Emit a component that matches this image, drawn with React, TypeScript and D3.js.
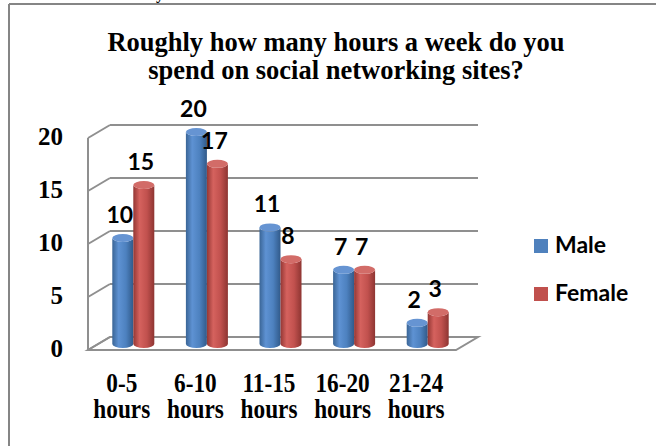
import React from "react";
import * as d3 from "d3";

const categories = ["0-5", "6-10", "11-15", "16-20", "21-24"];
const categoryUnit = "hours";
const maleValues = [10, 20, 11, 7, 2];
const femaleValues = [15, 17, 8, 7, 3];
const seriesNames = ["Male", "Female"];
const yTicks = [0, 5, 10, 15, 20];
const titleLines = ["Roughly how many hours a week do you", "spend on social networking sites?"];

const W = 656;
const H = 446;
const DX = 22;
const DY = -13;
const GRID = "#8f8f8f";

function cylPath(x0: number, w: number, yTop: number, yBot: number, ry: number) {
  const rx = w / 2;
  return `M${x0},${yTop} L${x0},${yBot} A${rx},${ry} 0 0 0 ${x0 + w},${yBot} L${x0 + w},${yTop} A${rx},${ry} 0 0 1 ${x0},${yTop} Z`;
}

export default function App() {
  const x = d3.scaleBand<string>().domain(categories).range([88, 456]);
  const y = d3.scaleLinear().domain([0, 20]).range([350, 138]);
  const bw = 21;
  const ry = 4;
  const barShiftX = 8.5;
  const barShiftY = -6;
  const series = [
    { name: seriesNames[0], values: maleValues, grad: "gBlue", top: "#6694d2", off: -bw },
    { name: seriesNames[1], values: femaleValues, grad: "gRed", top: "#d26c68", off: 0 },
  ];
  const serif = "'Liberation Serif', 'Times New Roman', serif";
  const sans = "Lato, 'Noto Sans', 'Liberation Sans', sans-serif";
  return (
    <svg width={W} height={H} style={{ position: "absolute", left: 0, top: 0, background: "#fff" }}>
      <defs>
        <linearGradient id="gBlue" x1="0" x2="1" y1="0" y2="0">
          <stop offset="0" stopColor="#3a6596" />
          <stop offset="0.3" stopColor="#5e92d3" />
          <stop offset="0.65" stopColor="#4d81bf" />
          <stop offset="1" stopColor="#315a8a" />
        </linearGradient>
        <linearGradient id="gRed" x1="0" x2="1" y1="0" y2="0">
          <stop offset="0" stopColor="#943734" />
          <stop offset="0.3" stopColor="#d5625e" />
          <stop offset="0.65" stopColor="#c1514e" />
          <stop offset="1" stopColor="#8e3532" />
        </linearGradient>
      </defs>
      {/* outer frame */}
      <line x1={9} y1={4} x2={W} y2={4} stroke="#858585" strokeWidth={2} />
      <line x1={9} y1={4} x2={9} y2={H} stroke="#858585" strokeWidth={2} />
      <text x={156} y={-1} fontFamily={serif} fontWeight="bold" fontSize={16}>y</text>

      {/* title */}
      {titleLines.map((t, i) => (
        <text key={i} x={336} y={51 + i * 28} textAnchor="middle" fontFamily={serif} fontWeight="bold" fontSize={26.5}>
          {t}
        </text>
      ))}

      {/* floor */}
      <polygon
        points={`${88},${y(0)} ${456},${y(0)} ${456 + DX},${y(0) + DY} ${88 + DX},${y(0) + DY}`}
        fill="#fff"
        stroke={GRID}
        strokeWidth={2}
      />
      {/* walls grid */}
      {yTicks.map((t) => (
        <g key={t}>
          <line x1={88} y1={y(t)} x2={88 + DX} y2={y(t) + DY} stroke={GRID} strokeWidth={2} />
          <line x1={88 + DX} y1={y(t) + DY} x2={456 + DX} y2={y(t) + DY} stroke={GRID} strokeWidth={2} />
          <text x={63} y={y(t) + 1} textAnchor="end" dominantBaseline="middle" fontFamily={serif} fontWeight="bold" fontSize={25}>
            {t}
          </text>
        </g>
      ))}
      <line x1={88} y1={y(0)} x2={88} y2={y(20)} stroke={GRID} strokeWidth={2} />

      {/* bars */}
      {categories.map((c, i) => {
        const cx = (x(c) as number) + x.bandwidth() / 2 + barShiftX;
        return (
          <g key={c}>
            {series.map((s) => {
              const x0 = cx + s.off;
              const yTop = y(s.values[i]) + barShiftY;
              const yBot = y(0) + barShiftY;
              return (
                <g key={s.name}>
                  <path d={cylPath(x0, bw, yTop, yBot, ry)} fill={`url(#${s.grad})`} />
                  <ellipse cx={x0 + bw / 2} cy={yTop} rx={bw / 2} ry={ry} fill={s.top} />
                </g>
              );
            })}
            {series.map((s) => (
              <text
                key={s.name + "l"}
                x={cx + s.off + bw / 2 - 3}
                y={y(s.values[i]) + barShiftY - 24}
                textAnchor="middle"
                dominantBaseline="central"
                fontFamily={sans}
                fontWeight="bold"
                fontSize={23}
              >
                {s.values[i]}
              </text>
            ))}
          </g>
        );
      })}

      {/* x labels */}
      {categories.map((c) => {
        const cx = (x(c) as number) + x.bandwidth() / 2 - 3;
        return (
          <g key={c + "x"} fontFamily={serif} fontWeight="bold" fontSize={24}>
            <text textAnchor="middle" transform={`translate(${cx},392) scale(0.97,1.12)`}>{c}</text>
            <text textAnchor="middle" transform={`translate(${cx},418) scale(0.97,1.12)`}>{categoryUnit}</text>
          </g>
        );
      })}

      {/* legend */}
      {series.map((s, i) => (
        <g key={s.name + "lg"}>
          <rect x={534} y={239 + i * 48} width={14} height={14} fill={i === 0 ? "#4f81bd" : "#c0504d"} />
          <text x={555} y={253 + i * 48} fontFamily={sans} fontWeight="bold" fontSize={23}>
            {s.name}
          </text>
        </g>
      ))}
    </svg>
  );
}
